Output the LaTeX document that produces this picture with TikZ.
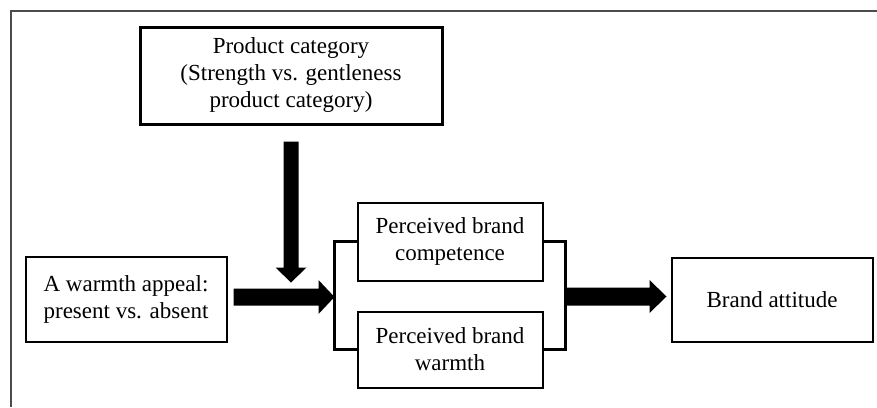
\documentclass[tikz,border=0pt]{standalone}
\usepackage{fontspec}
\setmainfont{Liberation Serif}
\usetikzlibrary{calc}
\begin{document}
\begin{tikzpicture}[x=1pt,y=-1pt,
  box/.style={draw=black, line width=2pt, fill=white, align=center, inner sep=0pt,
    font=\fontsize{23}{27}\selectfont},
  bracket/.style={draw=black, line width=2.5pt, line join=miter},
  fat/.style={fill=black},
  frameline/.style={draw=black!70, line width=1.2pt}]
\useasboundingbox (0,0) rectangle (877,407);
% frame
\coordinate (f1) at (11,407);
\coordinate (f2) at (11,11);
\coordinate (f3) at (877,11);
\draw[frameline] (f1) -- (f2) -- (f3);
% nodes
\node[box, line width=3pt, minimum width=302pt, minimum height=97pt] (prod) at (291,75.5)
  {Product category\\(Strength vs. gentleness\\product category)};
\node[box, minimum width=201pt, minimum height=85pt] (warm) at (126,299)
  {A warmth appeal:\\present vs. absent};
\node[box, minimum width=185pt, minimum height=78pt] (comp) at (450,241.5)
  {Perceived brand\\competence};
\node[box, minimum width=185pt, minimum height=76pt] (wth) at (450,349.5)
  {Perceived brand\\warmth};
\node[box, minimum width=201pt, minimum height=84pt] (att) at (772,299.5)
  {Brand attitude};
% brackets
\draw[bracket] (comp.west) -- ++(-22,0) coordinate (lbt) |- (wth.west);
\draw[bracket] (comp.east) -- ++(22,0) coordinate (rbt) |- (wth.east);
% named ends of the fat arrows
\coordinate (dtop) at ($(prod.south)+(0,16)$);
\coordinate (ltip) at (lbt |- 0,297);
\coordinate (lstart) at ($(warm.east |- ltip)+(6,0)$);
\coordinate (rstart) at (rbt |- 0,296.5);
\coordinate (rtip) at ($(att.west |- rstart)+(-4,0)$);
% down arrow
\fill[fat] ($(dtop)+(-7.5,0)$) -- ++(15,0) -- ++(0,126) -- ++(8,0)
  -- ($(dtop)+(0,141)$) -- ($(dtop)+(-15.5,126)$) -- ++(8,0) -- cycle;
% left fat arrow
\fill[fat] ($(lstart)+(0,-8.5)$) -- ($(ltip)+(-16,-8.5)$) -- ++(0,-8.5)
  -- (ltip) -- ($(ltip)+(-16,17)$) -- ++(0,-8.5) -- ($(lstart)+(0,8.5)$) -- cycle;
% right fat arrow
\fill[fat] ($(rstart)+(0,-9)$) -- ($(rtip)+(-17,-9)$) -- ++(0,-7.5)
  -- (rtip) -- ($(rtip)+(-17,16.5)$) -- ++(0,-7.5) -- ($(rstart)+(0,9)$) -- cycle;
\end{tikzpicture}
\end{document}
